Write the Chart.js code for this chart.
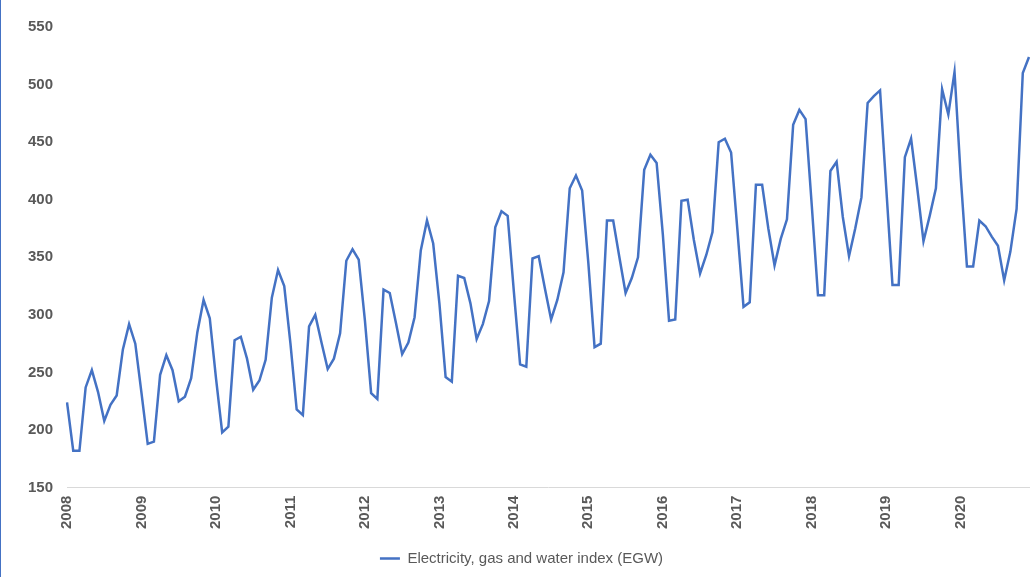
<!DOCTYPE html>
<html>
<head>
<meta charset="utf-8">
<script src="https://cdn.jsdelivr.net/npm/chart.js@4"></script>
<style>
  body { margin: 0; background: #fff; }
  #wrap { width: 1031px; height: 577px; position: relative; border-left: 1px solid #4472c4; box-sizing: border-box; }
</style>
</head>
<body>
<div id="wrap"><canvas id="c"></canvas></div>
<script>
const years = [2008, 2009, 2010, 2011, 2012, 2013, 2014, 2015, 2016, 2017, 2018, 2019, 2020]
const seriesName = "Electricity, gas and water index (EGW)"
const egw = [
  224, 182, 182, 237, 252, 233, 208, 222, 230, 270, 292, 275,
  232, 188, 190, 248, 265, 252, 225, 229, 245, 285, 313, 297,
  245, 198, 203, 278, 281, 262, 235, 243, 261, 315, 339, 325,
  275, 218, 213, 290, 300, 276, 253, 262, 284, 347, 357, 348,
  295, 232, 227, 322, 319, 293, 266, 276, 298, 356, 382, 362,
  310, 246, 242, 334, 332, 310, 279, 292, 312, 376, 390, 386,
  320, 257, 255, 349, 351, 323, 296, 313, 337, 410, 421, 408,
  345, 272, 275, 382, 382, 350, 319, 332, 350, 426, 439, 432,
  370, 295, 296, 399, 400, 365, 336, 352, 372, 450, 453, 441,
  375, 307, 311, 413, 413, 375, 343, 366, 383, 465, 478, 470,
  395, 317, 317, 425, 433, 385, 351, 375, 402, 484, 490, 495,
  410, 326, 326, 437, 453, 410, 364, 386, 410, 496, 474, 511,
  420, 342, 342, 382, 377, 368, 360, 330, 355, 392, 510, 524
]
const labels = egw.map((v, i) => years[Math.floor(i / 12)] + "-" + (i % 12 + 1))
const grey = "#595959"

new Chart(document.getElementById("c"), {
  type: "line",
  data: {
    labels: labels,
    datasets: [{
      label: seriesName,
      data: egw,
      borderColor: "#4472c4",
      backgroundColor: "#4472c4",
      borderWidth: 2.5,
      pointRadius: 0,
      tension: 0
    }]
  },
  options: {
    responsive: true,
    maintainAspectRatio: false,
    animation: false,
    layout: { padding: { top: 27, right: 2, left: 13, bottom: 1 } },
    scales: {
      x: {
        offset: false,
        grid: { display: false, drawTicks: false },
        border: { color: "#d9d9d9", width: 1 },
        ticks: {
          autoSkip: false,
          minRotation: 90,
          maxRotation: 90,
          color: grey,
          font: { family: "Liberation Sans", size: 15, weight: "bold" },
          padding: 8,
          callback: (v, i) => i % 12 === 0 ? years[i / 12] : null
        }
      },
      y: {
        min: 150,
        max: 550,
        grid: { display: false, drawTicks: false },
        border: { display: false },
        ticks: {
          stepSize: 50,
          color: grey,
          padding: 14,
          font: { family: "Liberation Sans", size: 15, weight: "bold" }
        }
      }
    },
    plugins: {
      legend: {
        position: "bottom",
        labels: {
          color: grey,
          boxWidth: 20,
          boxHeight: 0,
          padding: 14,
          font: { family: "Liberation Sans", size: 15 }
        }
      },
      tooltip: { enabled: false }
    }
  }
})
</script>
</body>
</html>
